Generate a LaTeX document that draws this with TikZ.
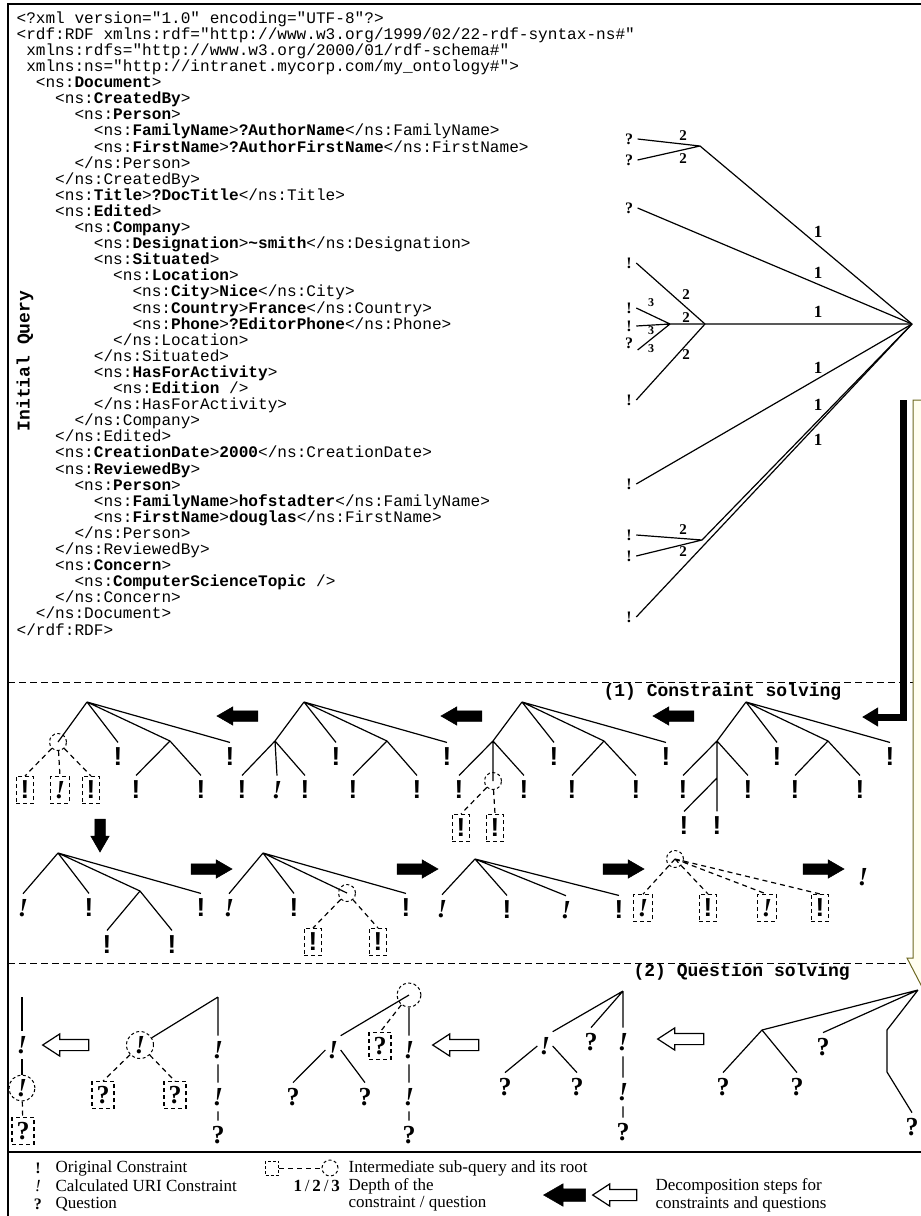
\documentclass[tikz,border=0pt]{standalone}
\usepackage{fontspec}
\setmainfont{Liberation Serif}
\newfontfamily\xmlfont{Liberation Mono}
\newfontfamily\markfont{Liberation Sans}
\usetikzlibrary{shapes.arrows,arrows.meta}

\newcommand{\ind}[1]{\hspace*{\dimexpr#1em*6/10\relax}}
\newcommand{\tg}[1]{\textbf{#1}}

\tikzset{
  xml/.style={font={\xmlfont\fontsize{16.1}{16.1}\selectfont}, align=left, inner sep=0pt},
  title/.style={font={\xmlfont\bfseries\fontsize{18}{18}\selectfont}, inner sep=0pt},
  cons/.style={font={\markfont\bfseries\fontsize{26}{26}\selectfont}, inner xsep=2pt, inner ysep=5pt},
  calc/.style={font={\bfseries\itshape\fontsize{26}{26}\selectfont}, inner xsep=2pt, inner ysep=5pt},
  ques/.style={font={\bfseries\fontsize{26}{26}\selectfont}, inner xsep=2pt, inner ysep=5pt},
  tmark/.style={font={\bfseries\fontsize{16}{16}\selectfont}, inner xsep=4pt, inner ysep=1pt},
  tcalc/.style={font={\itshape\fontsize{17}{17}\selectfont}, inner xsep=4pt, inner ysep=1pt},
  lvl/.style={font={\bfseries\fontsize{#1}{#1}\selectfont}, inner sep=0pt},
  sub/.style={draw, dash pattern=on 4pt off 3pt, line width=1.2pt, inner sep=4.5pt},
  subroot/.style={circle, draw, dash pattern=on 3pt off 2.5pt, line width=1pt, minimum size=17pt, inner sep=0pt},
  subedge/.style={dash pattern=on 5pt off 4pt},
  fwd/.style={single arrow, fill=black, draw=black, line width=0.5pt, inner xsep=0pt, inner ysep=5pt,
    minimum height=41pt, minimum width=0pt, single arrow head extend=4pt, single arrow tip angle=60},
  bwd/.style={single arrow, draw=black, fill=white, line width=1.2pt, inner xsep=0pt, inner ysep=5pt,
    minimum height=46pt, minimum width=0pt, single arrow head extend=5.5pt, single arrow tip angle=66},
  legtext/.style={font={\fontsize{17}{17}\selectfont}, anchor=west, inner sep=0pt},
}

\begin{document}
\begin{tikzpicture}[x=1pt, y=-1pt, line width=1.2pt]
    \useasboundingbox (0,0) rectangle (921,1216);

    % frame and separators
    \draw[line width=1.6pt] (921,4) -- (8,4) -- (8,1216);
    \draw[line width=1pt, dash pattern=on 7pt off 4pt] (8,682) -- (921,682);
    \draw[line width=1pt, dash pattern=on 7pt off 4pt] (8,963) -- (921,963);
    \draw[line width=1.6pt] (8,1152) -- (921,1152);

    % callout on the right
    \filldraw[fill=yellow!6, draw=olive!70!black, line width=1pt] (913,400) -- (990,400) -- (990,958)
        -- (1000,958) -- (935,1012) -- (907,958) -- (913,958) -- cycle;

    % the query
    \node[xml, anchor=north west] (query) at (16,11) {%
<?xml version="1.0" encoding="UTF-8"?>\\
<rdf:RDF xmlns:rdf="http://www.w3.org/1999/02/22-rdf-syntax-ns\#"\\
\ind{1}xmlns:rdfs="http://www.w3.org/2000/01/rdf-schema\#"\\
\ind{1}xmlns:ns="http://intranet.mycorp.com/my\_ontology\#">\\
\ind{2}<ns:\tg{Document}>\\
\ind{4}<ns:\tg{CreatedBy}>\\
\ind{6}<ns:\tg{Person}>\\
\ind{8}<ns:\tg{FamilyName}>\tg{?AuthorName}</ns:FamilyName>\\
\ind{8}<ns:\tg{FirstName}>\tg{?AuthorFirstName}</ns:FirstName>\\
\ind{6}</ns:Person>\\
\ind{4}</ns:CreatedBy>\\
\ind{4}<ns:\tg{Title}>\tg{?DocTitle}</ns:Title>\\
\ind{4}<ns:\tg{Edited}>\\
\ind{6}<ns:\tg{Company}>\\
\ind{8}<ns:\tg{Designation}>\tg{\textasciitilde smith}</ns:Designation>\\
\ind{8}<ns:\tg{Situated}>\\
\ind{10}<ns:\tg{Location}>\\
\ind{12}<ns:\tg{City}>\tg{Nice}</ns:City>\\
\ind{12}<ns:\tg{Country}>\tg{France}</ns:Country>\\
\ind{12}<ns:\tg{Phone}>\tg{?EditorPhone}</ns:Phone>\\
\ind{10}</ns:Location>\\
\ind{8}</ns:Situated>\\
\ind{8}<ns:\tg{HasForActivity}>\\
\ind{10}<ns:\tg{Edition} />\\
\ind{8}</ns:HasForActivity>\\
\ind{6}</ns:Company>\\
\ind{4}</ns:Edited>\\
\ind{4}<ns:\tg{CreationDate}>\tg{2000}</ns:CreationDate>\\
\ind{4}<ns:\tg{ReviewedBy}>\\
\ind{6}<ns:\tg{Person}>\\
\ind{8}<ns:\tg{FamilyName}>\tg{hofstadter}</ns:FamilyName>\\
\ind{8}<ns:\tg{FirstName}>\tg{douglas}</ns:FirstName>\\
\ind{6}</ns:Person>\\
\ind{4}</ns:ReviewedBy>\\
\ind{4}<ns:\tg{Concern}>\\
\ind{6}<ns:\tg{ComputerScienceTopic} />\\
\ind{4}</ns:Concern>\\
\ind{2}</ns:Document>\\
</rdf:RDF>};

    \node[title, rotate=90] (qlabel) at (25,361) {Initial Query};
    \node[title, anchor=west] (step1) at (603,692) {(1) Constraint solving};
    \node[title, anchor=west] (step2) at (633,972) {(2) Question solving};

    % tree of the query
    \coordinate (r0) at (912,324);
    \coordinate (j1) at (700,146);
    \coordinate (j2) at (705,324);
    \coordinate (j3) at (670,324);
    \coordinate (j4) at (702,540);
    \node[tmark] (q1) at (629,139) {?};
    \node[tmark] (q2) at (629,160) {?};
    \node[tmark] (q3) at (629,208) {?};
    \node[tmark] (c1) at (629,263) {!};
    \node[tmark] (c2) at (629,308) {!};
    \node[tmark] (c3) at (629,326) {!};
    \node[tmark] (q4) at (629,343) {?};
    \node[tmark] (c4) at (629,400) {!};
    \node[tmark] (c5) at (629,484) {!};
    \node[tmark] (c6) at (629,535) {!};
    \node[tmark] (c7) at (629,556) {!};
    \node[tmark] (c8) at (629,617) {!};
    \draw (q1.east) -- (j1) (q2.east) -- (j1) -- (r0);
    \draw (q3.east) -- (r0);
    \draw (c1.east) -- (j2);
    \draw (c2.east) -- (j3) (c3.east) -- (j3) (q4.south east) -- (j3) -- (j2) -- (r0);
    \draw (c4.east) -- (j2);
    \draw (c5.east) -- (r0);
    \draw (c6.east) -- (j4) (c7.east) -- (j4) -- (r0);
    \draw (c8.east) -- (r0);

    \node[lvl=15] (n1) at (683,136) {2};
    \node[lvl=15] (n2) at (683,159) {2};
    \node[lvl=17] (n3) at (818,232) {1};
    \node[lvl=17] (n4) at (818,273) {1};
    \node[lvl=15] (n5) at (686,295) {2};
    \node[lvl=12] (n6) at (651,303) {3};
    \node[lvl=15] (n7) at (686,318) {2};
    \node[lvl=12] (n8) at (651,331) {3};
    \node[lvl=12] (n9) at (651,349) {3};
    \node[lvl=17] (n10) at (818,312) {1};
    \node[lvl=15] (n11) at (686,355) {2};
    \node[lvl=17] (n12) at (818,368) {1};
    \node[lvl=17] (n13) at (818,405) {1};
    \node[lvl=17] (n14) at (818,440) {1};
    \node[lvl=15] (n15) at (683,530) {2};
    \node[lvl=15] (n16) at (683,552) {2};

    \coordinate (barTop) at (903,400);
    \coordinate (barEnd) at (862,717);
    \draw[line width=7pt, -{Triangle[length=16pt,width=18pt]}] (barTop) |- (barEnd);

    % (1) constraint solving, first row
    \coordinate (rA) at (87,702);
    \coordinate (jA) at (170,741);
    \node[subroot] (oA) at (58,742) {};
    \node[cons] (aA1) at (118,757) {!};
    \node[cons] (aA2) at (230,757) {!};
    \node[cons] (aA3) at (136,790) {!};
    \node[cons] (aA4) at (201,790) {!};
    \node[cons, sub] (bA1) at (25,790) {!};
    \node[calc, sub] (bA2) at (60,790) {!};
    \node[cons, sub] (bA3) at (91,790) {!};
    \draw (rA) -- (oA.center) (rA) -- (aA1.north) (rA) -- (jA) (rA) -- (aA2.north);
    \draw (jA) -- (aA3.north) (jA) -- (aA4.north);
    \draw[subedge] (oA) -- (bA1.north) (oA) -- (bA2.north) (oA) -- (bA3.north);

    \coordinate (rB) at (304,702);
    \coordinate (jB1) at (275,741);
    \coordinate (jB2) at (387,741);
    \node[cons] (aB1) at (336,757) {!};
    \node[cons] (aB2) at (447,757) {!};
    \node[cons] (aB3) at (242,790) {!};
    \node[calc] (aB4) at (277,790) {!};
    \node[cons] (aB5) at (305,790) {!};
    \node[cons] (aB6) at (353,790) {!};
    \node[cons] (aB7) at (417,790) {!};
    \draw (rB) -- (jB1) (rB) -- (aB1.north) (rB) -- (jB2) (rB) -- (aB2.north);
    \draw (jB1) -- (aB3.north) (jB1) -- (aB4.north) (jB1) -- (aB5.north);
    \draw (jB2) -- (aB6.north) (jB2) -- (aB7.north);

    \coordinate (rC) at (522,702);
    \coordinate (jC1) at (493,741);
    \coordinate (jC2) at (604,741);
    \node[subroot] (oC) at (493,781) {};
    \node[cons] (aC1) at (554,757) {!};
    \node[cons] (aC2) at (666,757) {!};
    \node[cons] (aC3) at (459,790) {!};
    \node[cons] (aC4) at (524,790) {!};
    \node[cons] (aC5) at (572,790) {!};
    \node[cons] (aC6) at (636,790) {!};
    \node[cons, sub] (bC1) at (461,828) {!};
    \node[cons, sub] (bC2) at (495,828) {!};
    \draw (rC) -- (jC1) (rC) -- (aC1.north) (rC) -- (jC2) (rC) -- (aC2.north);
    \draw (jC1) -- (aC3.north) (jC1) -- (oC.center) (jC1) -- (aC4.north);
    \draw (jC2) -- (aC5.north) (jC2) -- (aC6.north);
    \draw[subedge] (oC) -- (bC1.north) (oC) -- (bC2.north);

    \coordinate (rD) at (746,702);
    \coordinate (jD1) at (717,741);
    \coordinate (jD2) at (828,741);
    \coordinate (jD3) at (717,778);
    \node[cons] (aD1) at (777,757) {!};
    \node[cons] (aD2) at (890,757) {!};
    \node[cons] (aD3) at (683,790) {!};
    \node[cons] (aD4) at (748,790) {!};
    \node[cons] (aD5) at (795,790) {!};
    \node[cons] (aD6) at (860,790) {!};
    \node[cons] (aD7) at (684,826) {!};
    \node[cons] (aD8) at (717,826) {!};
    \draw (rD) -- (jD1) (rD) -- (aD1.north) (rD) -- (jD2) (rD) -- (aD2.north);
    \draw (jD1) -- (aD3.north) (jD1) -- (jD3) -- (aD8.north) (jD3) -- (aD7.north) (jD1) -- (aD4.north);
    \draw (jD2) -- (aD5.north) (jD2) -- (aD6.north);

    \node[fwd, rotate=180] (s1) at (242,716) {};
    \node[fwd, rotate=180] (s2) at (466,716) {};
    \node[fwd, rotate=180] (s3) at (678,716) {};
    \node[fwd, rotate=-90, minimum height=33pt] (s4) at (100,831) {};

    % (1) constraint solving, second row
    \coordinate (rE) at (58,853);
    \coordinate (jE) at (140,891);
    \node[calc] (aE1) at (23,908) {!};
    \node[cons] (aE2) at (89,908) {!};
    \node[cons] (aE3) at (201,908) {!};
    \node[cons] (aE4) at (107,945) {!};
    \node[cons] (aE5) at (172,945) {!};
    \draw (rE) -- (aE1.north) (rE) -- (aE2.north) (rE) -- (jE) (rE) -- (aE3.north);
    \draw (jE) -- (aE4.north) (jE) -- (aE5.north);

    \coordinate (rF) at (263,853);
    \node[subroot] (oF) at (347,893) {};
    \node[calc] (aF1) at (229,908) {!};
    \node[cons] (aF2) at (294,908) {!};
    \node[cons] (aF3) at (406,908) {!};
    \node[cons, sub] (bF1) at (313,942) {!};
    \node[cons, sub] (bF2) at (378,942) {!};
    \draw (rF) -- (aF1.north) (rF) -- (aF2.north) (rF) -- (oF.center) (rF) -- (aF3.north);
    \draw[subedge] (oF) -- (bF1.north) (oF) -- (bF2.north);

    \coordinate (rG) at (475,859);
    \node[calc] (aG1) at (442,909) {!};
    \node[cons] (aG2) at (507,910) {!};
    \node[calc] (aG3) at (566,910) {!};
    \node[cons] (aG4) at (619,910) {!};
    \draw (rG) -- (aG1.north) (rG) -- (aG2.north) (rG) -- (aG3.north) (rG) -- (aG4.north);

    \node[subroot] (oH) at (675,859) {};
    \node[calc, sub] (bH1) at (643,908) {!};
    \node[cons, sub] (bH2) at (708,908) {!};
    \node[calc, sub] (bH3) at (767,908) {!};
    \node[cons, sub] (bH4) at (820,908) {!};
    \draw[subedge] (oH.center) -- (bH1.north) (oH.center) -- (bH2.north)
        (oH.center) -- (bH3.north) (oH.center) -- (bH4.north);

    \node[calc] (aEnd) at (863,877) {!};

    \node[fwd] (s5) at (207,869) {};
    \node[fwd] (s6) at (413,869) {};
    \node[fwd] (s7) at (619,869) {};
    \node[fwd] (s8) at (819,869) {};

    % (2) question solving
    \coordinate (rI) at (918,990);
    \coordinate (jI1) at (762,1030);
    \coordinate (jI2) at (887,1030);
    \coordinate (jI3) at (887,1072);
    \node[ques] (qI1) at (723,1087) {?};
    \node[ques] (qI2) at (797,1087) {?};
    \node[ques] (qI3) at (823,1047) {?};
    \node[ques] (qI4) at (912,1127) {?};
    \draw (rI) -- (jI1) (rI) -- (qI3.north) (rI) -- (jI2) -- (jI3) -- (qI4.north);
    \draw (jI1) -- (qI1.north) (jI1) -- (qI2.north);

    \coordinate (rJ) at (623,991);
    \node[calc] (aJ1) at (545,1046) {!};
    \node[ques] (qJ1) at (591,1042) {?};
    \node[calc] (aJ2) at (623,1042) {!};
    \node[calc] (aJ3) at (623,1092) {!};
    \node[ques] (qJ2) at (623,1132) {?};
    \node[ques] (qJ3) at (505,1087) {?};
    \node[ques] (qJ4) at (577,1087) {?};
    \draw (rJ) -- (aJ1.north east) (rJ) -- (qJ1.north) (rJ) -- (aJ2.north) (aJ2) -- (aJ3) (aJ3) -- (qJ2);
    \draw (aJ1.west) -- (qJ3.north) (aJ1.east) -- (qJ4.north);

    \node[subroot, minimum size=24pt] (oK) at (409,995) {};
    \node[calc] (aK1) at (333,1050) {!};
    \node[ques, sub] (bK) at (380,1046) {?};
    \node[calc] (aK2) at (409,1050) {!};
    \node[calc] (aK3) at (409,1097) {!};
    \node[ques] (qK1) at (409,1135) {?};
    \node[ques] (qK2) at (293,1097) {?};
    \node[ques] (qK3) at (365,1097) {?};
    \draw (oK.center) -- (aK1.north east) (oK) -- (aK2) (aK2) -- (aK3) (aK3) -- (qK1);
    \draw (aK1.west) -- (qK2.north) (aK1.east) -- (qK3.north);
    \draw[subedge] (oK) -- (bK.north);

    \coordinate (rL) at (218,997);
    \node[calc, subroot, minimum size=27pt] (oL) at (140,1045) {!};
    \node[calc] (aL1) at (218,1050) {!};
    \node[calc] (aL2) at (218,1097) {!};
    \node[ques] (qL1) at (218,1135) {?};
    \node[ques, sub] (bL1) at (103,1095) {?};
    \node[ques, sub] (bL2) at (175,1095) {?};
    \draw (rL) -- (oL) (rL) -- (aL1.north) (aL1) -- (aL2) (aL2) -- (qL1);
    \draw[subedge] (oL) -- (bL1.north) (oL) -- (bL2.north);

    \coordinate (rM) at (22,997);
    \node[calc] (aM1) at (22,1045) {!};
    \node[calc, subroot, minimum size=26pt] (oM) at (22,1088) {!};
    \node[ques, sub] (bM) at (23,1131) {?};
    \draw (rM) -- (aM1.north) (aM1) -- (oM);
    \draw[subedge] (oM) -- (bM);

    \node[bwd, rotate=180] (t1) at (685,1039) {};
    \node[bwd, rotate=180] (t2) at (460,1045) {};
    \node[bwd, rotate=180] (t3) at (70,1045) {};

    % legend
    \node[tmark] (lg1) at (38,1168) {!};
    \node[tcalc] (lg2) at (38,1186) {!};
    \node[tmark] (lg3) at (38,1204) {?};
    \node[legtext] (lt1) at (55,1168) {Original Constraint};
    \node[legtext] (lt2) at (55,1186) {Calculated URI Constraint};
    \node[legtext] (lt3) at (55,1204) {Question};

    \node[draw, dash pattern=on 3pt off 2pt, line width=1pt, minimum width=13pt, minimum height=14pt, inner sep=0pt] (lgbox) at (272,1168) {};
    \node[subroot, minimum size=16pt] (lgroot) at (330,1168) {};
    \draw[subedge, line width=1pt] (lgbox) -- (lgroot);
    \node[legtext] (lt4) at (348,1168) {Intermediate sub-query and its root};

    \node[legtext] (lgd) at (293,1186) {\textbf{1}\,/\,\textbf{2}\,/\,\textbf{3}};
    \node[legtext] (lt5) at (348,1186) {Depth of the};
    \node[legtext] (lt6) at (348,1204) {constraint / question};

    \node[fwd, rotate=180, minimum height=42pt, inner ysep=6pt, single arrow head extend=5pt] (lga) at (570,1195) {};
    \node[bwd, rotate=180, minimum height=44pt] (lgb) at (619,1195) {};
    \node[legtext] (lt7) at (655,1186) {Decomposition steps for};
    \node[legtext] (lt8) at (655,1204) {constraints and questions};
\end{tikzpicture}
\end{document}
